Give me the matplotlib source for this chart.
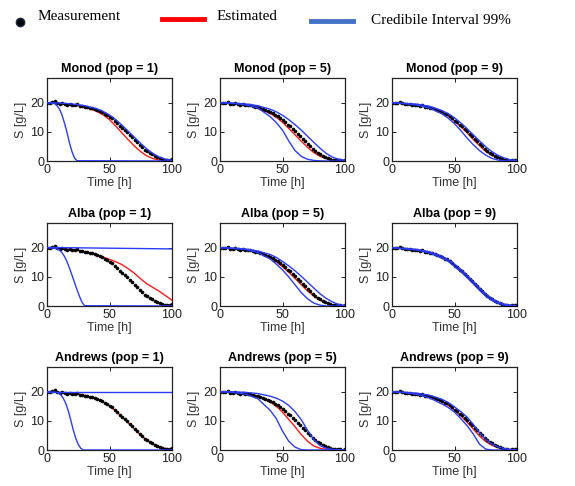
import matplotlib
matplotlib.use("Agg")
import matplotlib.pyplot as plt
from matplotlib.lines import Line2D

# ---------------- data ----------------
models = ["Monod", "Alba", "Andrews"]
pops = [1, 5, 9]

t_meas = list(range(0, 101, 2))
meas_pop1 = [20.0, 19.9, 20.1, 20.5, 19.8, 19.7, 19.9, 19.6, 19.4, 19.7, 19.4, 19.3, 19.6,
             19.0, 18.9, 18.7, 18.6, 18.2, 18.1, 17.7, 17.5, 17.0, 16.9, 16.2, 15.9, 15.1,
             14.6, 13.7, 13.1, 12.1, 11.5, 10.5, 9.8, 8.8, 8.1, 7.1, 6.5, 5.4, 4.8, 3.9,
             3.4, 2.6, 2.3, 1.7, 1.4, 0.9, 0.8, 0.4, 0.5, 0.2, 0.6]
meas_pop5 = [20.0, 19.8, 19.9, 20.4, 19.7, 19.6, 19.8, 19.5, 19.3, 19.5, 19.2, 19.1, 19.4,
             18.8, 18.6, 18.4, 18.1, 17.9, 17.4, 17.2, 16.8, 16.4, 15.9, 15.4, 14.7, 14.0,
             13.4, 12.5, 11.9, 11.0, 10.3, 9.3, 8.5, 7.5, 6.8, 5.8, 5.1, 4.1, 3.5, 2.7,
             2.3, 1.7, 1.3, 1.0, 0.6, 0.5, 0.4, 0.2, 0.4, 0.1, 0.5]
meas_pop9 = [19.9, 20.0, 19.8, 20.3, 19.8, 19.7, 19.6, 19.6, 19.4, 19.3, 19.4, 19.0, 19.3,
             18.7, 18.7, 18.3, 18.2, 17.8, 17.5, 17.1, 16.9, 16.3, 16.0, 15.3, 14.8, 13.9,
             13.5, 12.4, 12.0, 10.9, 10.4, 9.2, 8.6, 7.4, 6.9, 5.7, 5.2, 4.0, 3.6, 2.6,
             2.4, 1.6, 1.4, 0.9, 0.7, 0.4, 0.5, 0.1, 0.3, 0.2, 0.4]

t_curve = [0, 10, 20, 30, 40, 45, 50, 55, 60, 65, 70, 75, 80, 85, 90, 95, 100]

# Monod
monod1_est = [20.0, 19.8, 19.4, 18.6, 17.0, 15.8, 14.2, 12.0, 9.6, 7.3, 5.1, 3.2, 1.7, 0.8, 0.3, 0.1, 0.0]
monod1_hi = [20.0, 19.9, 19.6, 19.0, 17.9, 17.0, 15.8, 14.2, 12.3, 10.2, 8.1, 6.0, 4.1, 2.5, 1.3, 0.6, 0.3]
monod1_lo_t = [0, 4, 6, 8, 10, 12, 14, 16, 18, 20, 22, 24, 100]
monod1_lo = [20.0, 19.9, 19.7, 19.0, 17.8, 15.8, 13.0, 9.8, 6.2, 3.2, 1.0, 0.1, 0.0]

monod5_est = [20.0, 19.7, 19.3, 18.3, 16.4, 15.0, 13.3, 11.2, 9.0, 6.8, 4.7, 2.9, 1.6, 0.8, 0.3, 0.1, 0.0]
monod5_hi = [20.0, 19.9, 19.6, 19.0, 17.8, 16.9, 15.7, 14.2, 12.5, 10.6, 8.5, 6.4, 4.4, 2.6, 1.3, 0.6, 0.3]
monod5_lo = [20.0, 19.8, 19.3, 18.3, 15.3, 13.2, 10.6, 6.9, 3.6, 1.6, 0.6, 0.2, 0.05, 0.0, 0.0, 0.0, 0.0]

monod9_est = [20.0, 19.7, 19.3, 18.4, 16.7, 15.4, 13.7, 11.8, 9.7, 7.4, 5.3, 3.3, 1.9, 1.0, 0.4, 0.1, 0.0]
monod9_hi = [20.0, 19.8, 19.5, 18.8, 17.3, 16.2, 14.8, 13.1, 11.1, 9.0, 6.9, 4.9, 3.2, 1.9, 1.0, 0.4, 0.2]
monod9_lo = [20.0, 19.7, 19.2, 18.2, 16.2, 14.7, 12.8, 10.5, 7.9, 5.6, 3.6, 2.0, 0.9, 0.3, 0.1, 0.0, 0.0]

# Alba
alba1_est = [20.0, 19.8, 19.4, 18.7, 17.6, 16.8, 16.0, 15.2, 14.2, 12.8, 11.2, 9.3, 7.6, 6.3, 5.0, 3.5, 2.0]
alba1_hi_t = [0, 100]
alba1_hi = [20.1, 19.6]
alba1_lo_t = [0, 5, 8, 10, 12, 14, 16, 18, 20, 22, 24, 26, 28, 30, 100]
alba1_lo = [20.0, 19.9, 19.6, 19.2, 18.3, 17.0, 15.2, 13.0, 10.6, 8.1, 5.6, 3.3, 1.3, 0.1, 0.0]

alba5_est = [20.0, 19.7, 19.3, 18.4, 16.6, 15.2, 13.5, 11.6, 9.5, 7.3, 5.2, 3.4, 2.0, 1.0, 0.4, 0.1, 0.0]
alba5_hi = [20.0, 19.9, 19.6, 18.9, 17.7, 16.7, 15.3, 13.8, 12.1, 10.2, 8.2, 6.2, 4.2, 2.6, 1.4, 0.5, 0.2]
alba5_lo = [20.0, 19.8, 19.4, 18.4, 16.2, 14.4, 12.4, 10.0, 7.3, 4.6, 2.5, 1.0, 0.3, 0.0, 0.0, 0.0, 0.0]

alba9_est = [20.0, 19.7, 19.3, 18.4, 16.8, 15.6, 14.0, 12.2, 10.2, 8.0, 5.8, 3.8, 2.2, 1.1, 0.5, 0.2, 0.0]
alba9_hi = [20.0, 19.8, 19.4, 18.6, 17.1, 15.9, 14.4, 12.6, 10.6, 8.4, 6.2, 4.2, 2.5, 1.3, 0.6, 0.3, 0.1]
alba9_lo = [20.0, 19.6, 19.2, 18.2, 16.5, 15.3, 13.6, 11.8, 9.8, 7.6, 5.4, 3.4, 1.9, 0.9, 0.3, 0.1, 0.0]

# Andrews
andrews1_est = [20.0, 19.8, 19.5, 18.8, 17.5, 16.5, 15.2, 13.4, 11.4, 9.3, 7.2, 5.1, 3.3, 2.0, 1.0, 0.5, 0.3]
andrews1_hi_t = [0, 100]
andrews1_hi = [20.0, 20.0]
andrews1_lo_t = [0, 6, 9, 11, 13, 15, 17, 19, 21, 23, 25, 27, 29, 100]
andrews1_lo = [20.0, 19.9, 19.6, 19.0, 17.8, 16.0, 13.5, 10.3, 6.9, 4.0, 1.9, 0.6, 0.0, 0.0]

andrews5_est = [20.0, 19.8, 19.4, 18.6, 16.5, 15.0, 13.0, 10.5, 8.0, 5.3, 3.0, 1.4, 0.6, 0.2, 0.1, 0.0, 0.0]
andrews5_hi = [20.0, 20.0, 19.8, 19.4, 18.5, 17.8, 16.8, 15.3, 13.2, 10.4, 6.8, 3.6, 1.5, 0.6, 0.2, 0.1, 0.0]
andrews5_lo = [20.0, 19.8, 19.2, 17.7, 13.7, 10.8, 6.5, 3.0, 1.0, 0.1, 0.0, 0.0, 0.0, 0.0, 0.0, 0.0, 0.0]

andrews9_est = [20.0, 19.7, 19.3, 18.4, 16.6, 15.3, 13.7, 11.8, 9.6, 7.2, 4.8, 2.9, 1.6, 0.8, 0.3, 0.1, 0.0]
andrews9_hi = [20.0, 19.8, 19.5, 18.8, 17.4, 16.3, 14.8, 13.2, 11.3, 8.8, 5.9, 3.6, 2.0, 1.0, 0.5, 0.2, 0.1]
andrews9_lo = [20.0, 19.7, 19.1, 17.9, 15.8, 14.6, 13.0, 10.8, 8.4, 5.5, 2.0, 0.3, 0.0, 0.0, 0.0, 0.0, 0.0]

x_ticks = [0, 50, 100]
y_ticks = [0, 10, 20]

legend_labels = ["Measurement", "Estimated", "Credibile Interval 99%"]

measurements = {1: meas_pop1, 5: meas_pop5, 9: meas_pop9}
panels = {
    ("Monod", 1): ((t_curve, monod1_est), (t_curve, monod1_hi), (monod1_lo_t, monod1_lo)),
    ("Monod", 5): ((t_curve, monod5_est), (t_curve, monod5_hi), (t_curve, monod5_lo)),
    ("Monod", 9): ((t_curve, monod9_est), (t_curve, monod9_hi), (t_curve, monod9_lo)),
    ("Alba", 1): ((t_curve, alba1_est), (alba1_hi_t, alba1_hi), (alba1_lo_t, alba1_lo)),
    ("Alba", 5): ((t_curve, alba5_est), (t_curve, alba5_hi), (t_curve, alba5_lo)),
    ("Alba", 9): ((t_curve, alba9_est), (t_curve, alba9_hi), (t_curve, alba9_lo)),
    ("Andrews", 1): ((t_curve, andrews1_est), (andrews1_hi_t, andrews1_hi), (andrews1_lo_t, andrews1_lo)),
    ("Andrews", 5): ((t_curve, andrews5_est), (t_curve, andrews5_hi), (t_curve, andrews5_lo)),
    ("Andrews", 9): ((t_curve, andrews9_est), (t_curve, andrews9_hi), (t_curve, andrews9_lo)),
}

# ---------------- figure ----------------
W, H = 575, 486
fig = plt.figure(figsize=(W / 100, H / 100), dpi=100)
fig.patch.set_facecolor("white")

sans = ["Liberation Sans", "DejaVu Sans"]
serif = ["Liberation Serif", "DejaVu Serif"]

col_left = [47, 220, 392]
col_w = 125
row_top = [78, 223, 367]
row_h = 83

RED = "#ff1a1a"
BLUE = "#2b3cf5"

for r, model in enumerate(models):
    for c, pop in enumerate(pops):
        x0 = col_left[c] / W
        y0 = 1 - (row_top[r] + row_h) / H
        ax = fig.add_axes([x0, y0, col_w / W, row_h / H])
        (te, est), (th, hi), (tl, lo) = panels[(model, pop)]
        ax.plot(te, est, color=RED, lw=1.0, zorder=2)
        ax.plot(t_meas, measurements[pop], linestyle="none", marker="o", ms=2.1,
                mfc="black", mec="black", mew=0.5, zorder=3)
        ax.plot(th, hi, color=BLUE, lw=1.0, zorder=4)
        ax.plot(tl, lo, color=BLUE, lw=1.0, zorder=4)
        ax.set_xlim(0, 100)
        ax.set_ylim(0, 28.5)
        ax.set_xticks(x_ticks)
        ax.set_yticks(y_ticks)
        ax.tick_params(direction="in", length=3, width=0.7, top=True, right=True,
                       labelsize=9, pad=2, colors="#222222")
        for lab in ax.get_xticklabels() + ax.get_yticklabels():
            lab.set_family(sans)
        for sp in ax.spines.values():
            sp.set_linewidth(0.9)
            sp.set_color("#222222")
        ax.set_title(f"{model} (pop = {pop})", fontsize=9, fontweight="bold",
                     family=sans, pad=4)
        ax.set_xlabel("Time [h]", fontsize=9, family=sans, labelpad=1, color="#333333")
        ax.set_ylabel("S [g/L]", fontsize=9, family=sans, labelpad=2, color="#333333")

# ---------------- legend (custom, figure-level) ----------------
def fx(px):
    return px / W

def fy(py):
    return 1 - py / H

fig.add_artist(Line2D([fx(20)], [fy(22)], marker="o", ms=6, mfc="black", mec="#1a2a4a",
                      linestyle="none", transform=fig.transFigure))
fig.text(fx(38), fy(17), legend_labels[0], family=serif, fontsize=11, va="center", ha="left")
fig.add_artist(Line2D([fx(162), fx(204)], [fy(19), fy(19)], color="#ff0000", lw=3.5,
                      transform=fig.transFigure))
fig.text(fx(217), fy(17), legend_labels[1], family=serif, fontsize=11, va="center", ha="left")
fig.add_artist(Line2D([fx(311), fx(353)], [fy(21), fy(21)], color="#4472c4", lw=3.5,
                      transform=fig.transFigure))
fig.text(fx(371), fy(21), legend_labels[2], family=serif, fontsize=11, va="center", ha="left")

fig.savefig("out.png", dpi=100, facecolor="white")
